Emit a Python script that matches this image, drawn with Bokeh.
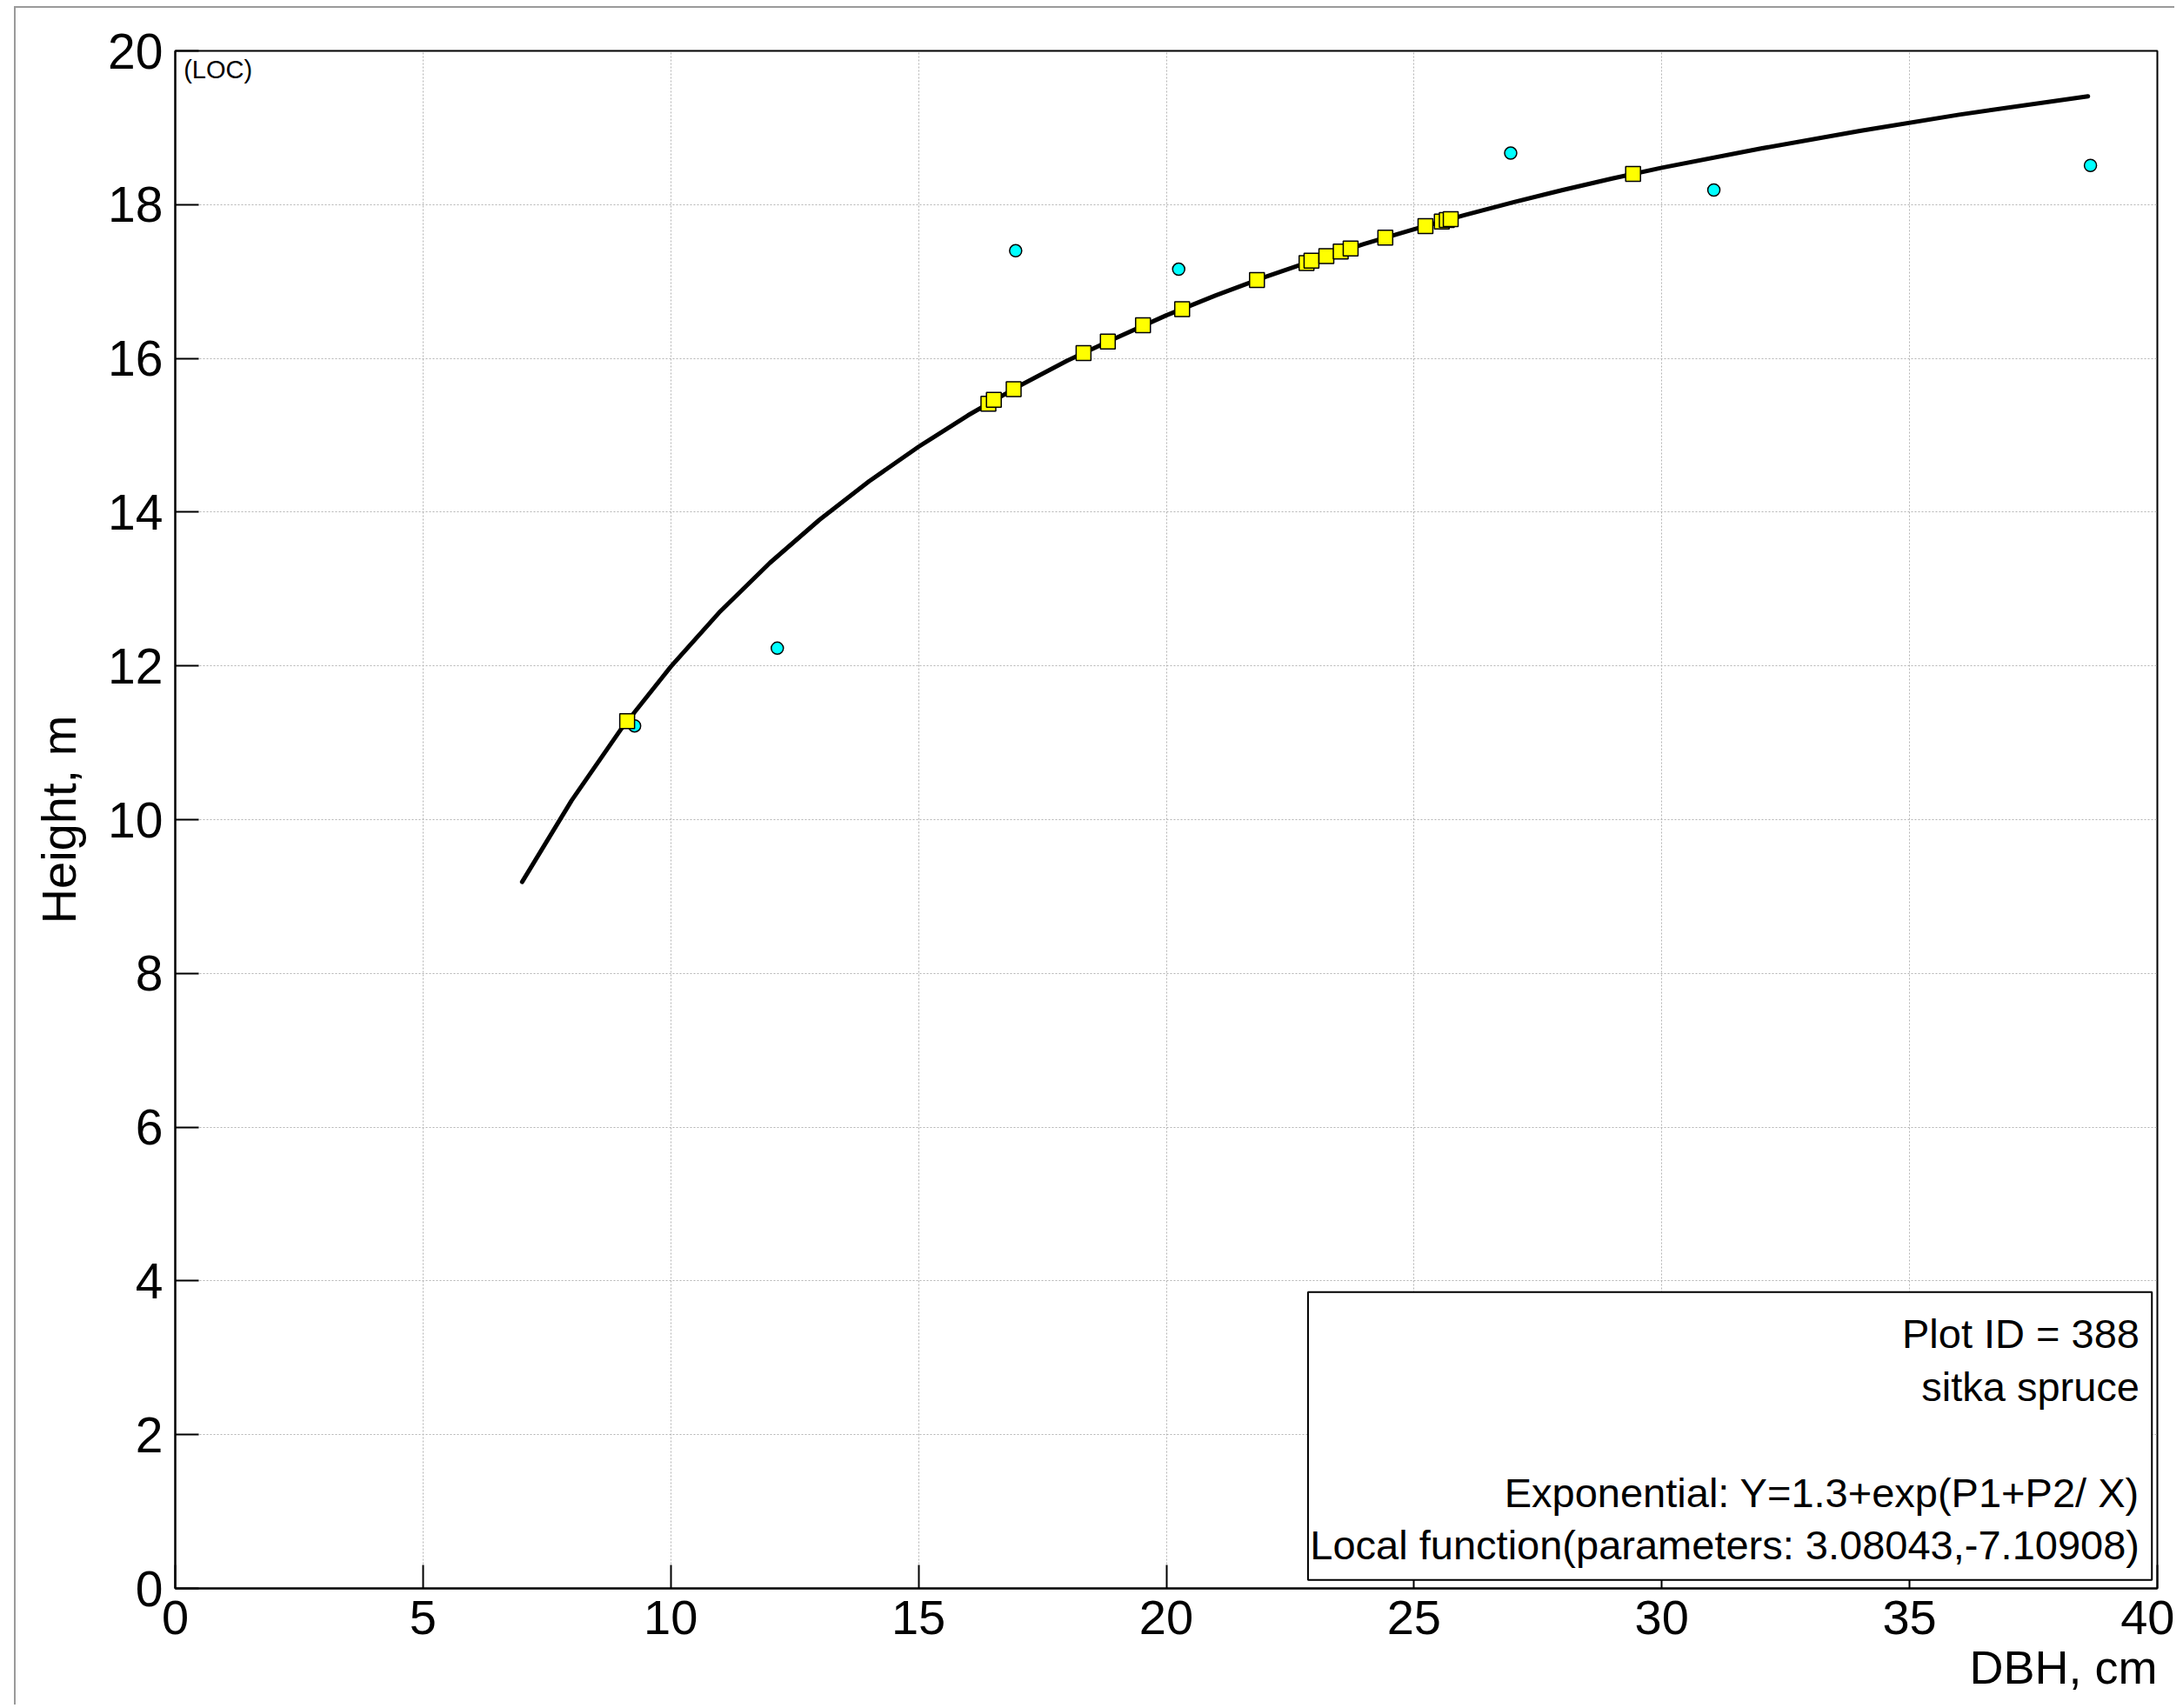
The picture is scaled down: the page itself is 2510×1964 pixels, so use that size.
from bokeh.plotting import figure
from bokeh.models import Range1d, BoxAnnotation, Label, FixedTicker, ColumnDataSource, Title
from bokeh.embed import file_html
from bokeh.resources import INLINE

# ---- data ----
x_ticks = [0, 5, 10, 15, 20, 25, 30, 35, 40]
y_ticks = [0, 2, 4, 6, 8, 10, 12, 14, 16, 18, 20]

# fitted curve (local function)
curve_dbh = [7.0, 8, 9, 10, 11, 12, 13, 14, 15, 16, 17, 18, 19, 20, 21, 22, 23, 24,
             25, 26, 27, 28, 29, 30, 32, 34, 36, 38.6]
curve_h = [9.19, 10.25, 11.18, 11.99, 12.71, 13.34, 13.90, 14.40, 14.85, 15.26, 15.63,
           15.97, 16.27, 16.56, 16.82, 17.06, 17.28, 17.49, 17.68, 17.86, 18.03, 18.19,
           18.34, 18.48, 18.73, 18.96, 19.17, 19.41]

# estimated trees (yellow squares)
est_dbh = [9.12, 16.41, 16.52, 16.92, 18.33, 18.82, 19.53, 20.32, 21.83, 22.83, 22.93,
           23.23, 23.52, 23.72, 24.42, 25.23, 25.56, 25.66, 25.74, 29.42]
est_h = [11.28, 15.41, 15.46, 15.60, 16.07, 16.22, 16.43, 16.64, 17.02, 17.24, 17.27,
         17.33, 17.39, 17.43, 17.57, 17.72, 17.78, 17.80, 17.81, 18.40]

# measured trees (cyan circles)
obs_dbh = [9.27, 12.15, 16.96, 20.25, 26.95, 31.05, 38.65]
obs_h = [11.22, 12.23, 17.40, 17.16, 18.67, 18.19, 18.51]

info_lines = ["Plot ID = 388", "sitka spruce",
              "Exponential: Y=1.3+exp(P1+P2/ X)",
              "Local function(parameters: 3.08043,-7.10908)"]

x_title = "DBH, cm"
y_title = "Height, m"

FONT = "Liberation Sans"

p = figure(frame_width=2279, frame_height=1768,
           x_range=Range1d(0, 40), y_range=Range1d(0, 20),
           output_backend="svg", toolbar_location=None,
           min_border_left=183, min_border_right=20,
           min_border_top=49, min_border_bottom=134,
           background_fill_color="white", border_fill_color="white")

p.margin = (7, 0, 0, 16)
p.styles = {"border-left": "2px solid #9a9a9a", "border-top": "2px solid #9a9a9a"}

p.outline_line_color = "black"
p.outline_line_width = 2

for ax in (p.xaxis[0], p.yaxis[0]):
    ax.axis_line_width = 2
    ax.axis_line_color = "black"
    ax.major_tick_in = 27
    ax.major_tick_out = 0
    ax.major_tick_line_width = 2
    ax.minor_tick_line_color = None
    ax.major_label_text_font = FONT
    ax.major_label_text_color = "black"
    ax.axis_label_text_font = FONT
    ax.axis_label_text_font_style = "normal"
    ax.axis_label_text_color = "black"

p.xaxis.ticker = FixedTicker(ticks=x_ticks)
p.yaxis.ticker = FixedTicker(ticks=y_ticks)
p.xaxis.major_label_text_font_size = "56px"
p.yaxis.major_label_text_font_size = "57px"
p.xaxis.major_label_standoff = 14
p.yaxis.major_label_standoff = 14

p.yaxis.axis_label = y_title
p.yaxis.axis_label_text_font_size = "56px"
p.yaxis.axis_label_standoff = 22

# x-axis title, right-aligned under the end of the axis
p.add_layout(Title(text=x_title, align="right", text_font=FONT,
                   text_font_size="54px", text_font_style="normal",
                   text_color="black", standoff=7, offset=0), "below")

for g, tk in ((p.xgrid[0], x_ticks), (p.ygrid[0], y_ticks)):
    g.ticker = FixedTicker(ticks=tk)
    g.grid_line_color = "#b4b4b4"
    g.grid_line_dash = "2 2"
    g.grid_line_width = 1

obs_src = ColumnDataSource(dict(x=obs_dbh, y=obs_h))
est_src = ColumnDataSource(dict(x=est_dbh, y=est_h))
cur_src = ColumnDataSource(dict(x=curve_dbh, y=curve_h))

p.scatter("x", "y", source=obs_src, marker="circle", size=14,
          fill_color="#00FFFF", line_color="black", line_width=1.5)
p.line("x", "y", source=cur_src, line_width=5, line_color="black",
       line_join="round", line_cap="round")
p.scatter("x", "y", source=est_src, marker="square", size=17,
          fill_color="#FFFF00", line_color="black", line_width=1.5)

# info box
box = BoxAnnotation(left=22.86, right=39.89, bottom=0.11, top=3.855,
                    fill_color="white", fill_alpha=1.0,
                    line_color="black", line_width=2, line_alpha=1.0)
p.add_layout(box)

info_y = [3.32, 2.63, 1.25, 0.56]
for txt, yy in zip(info_lines, info_y):
    p.add_layout(Label(x=39.64, y=yy, text=txt, text_align="right",
                       text_baseline="alphabetic", text_font=FONT,
                       text_font_size="47px", text_color="black"))

p.add_layout(Label(x=0.17, y=19.76, text="(LOC)", text_align="left",
                   text_baseline="alphabetic", text_font=FONT,
                   text_font_size="29px", text_color="black"))

open("out.html", "w").write(file_html(p, INLINE))
